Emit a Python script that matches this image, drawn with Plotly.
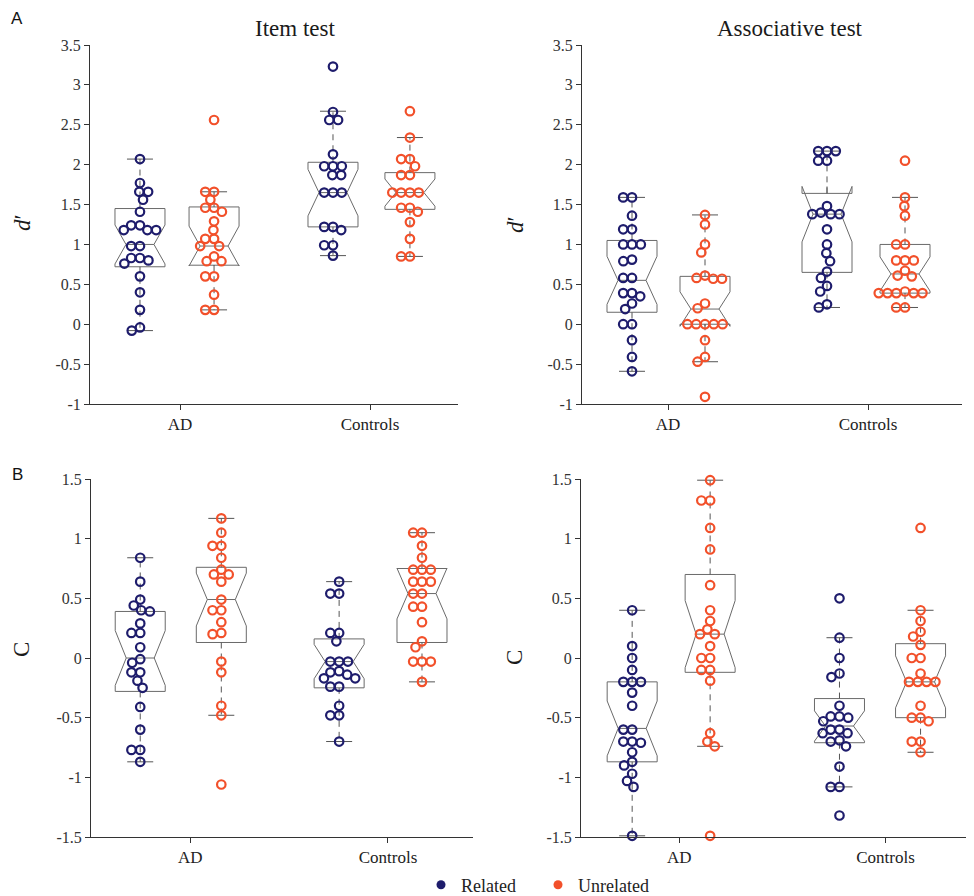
import math
import plotly.graph_objects as go

# ---------------- data ----------------
groups = ["AD", "Controls"]
cond_names = ["Related", "Unrelated"]

# Panel A, Item test, d'
item_d_AD_rel = [2.07, 1.77, 1.66, 1.66, 1.56, 1.41, 1.24, 1.24, 1.18, 1.18, 1.18, 0.98, 0.98,
                 0.83, 0.83, 0.80, 0.76, 0.60, 0.40, 0.18, -0.04, -0.08]
item_d_AD_unrel = [2.56, 1.66, 1.66, 1.56, 1.46, 1.46, 1.41, 1.29, 1.18, 1.07, 1.07, 0.98, 0.98,
                   0.85, 0.79, 0.79, 0.60, 0.60, 0.37, 0.18, 0.18]
item_d_CT_rel = [3.23, 2.66, 2.56, 2.56, 2.13, 1.98, 1.98, 1.98, 1.87, 1.87, 1.65, 1.65, 1.65,
                 1.22, 1.22, 1.18, 0.99, 0.99, 0.86]
item_d_CT_unrel = [2.67, 2.34, 2.07, 2.07, 1.98, 1.87, 1.87, 1.65, 1.65, 1.65, 1.65, 1.46, 1.46,
                   1.41, 1.28, 1.07, 0.85, 0.85]
item_d_q1 = [0.72, 0.74, 1.22, 1.44]
item_d_med = [1.00, 0.98, 1.65, 1.65]
item_d_q3 = [1.45, 1.47, 2.03, 1.90]
item_d_wlo = [-0.08, 0.18, 0.86, 0.85]
item_d_whi = [2.07, 1.66, 2.67, 2.34]

# Panel A, Associative test, d'
assoc_d_AD_rel = [1.59, 1.59, 1.36, 1.19, 1.19, 1.00, 1.00, 1.00, 0.81, 0.79, 0.58, 0.58, 0.39,
                  0.39, 0.35, 0.26, 0.19, 0.00, 0.00, -0.20, -0.41, -0.59]
assoc_d_AD_unrel = [1.37, 1.25, 1.00, 0.90, 0.61, 0.58, 0.57, 0.57, 0.26, 0.20, 0.00, 0.00, 0.00,
                    0.00, 0.00, -0.20, -0.41, -0.47, -0.91]
assoc_d_CT_rel = [2.17, 2.17, 2.17, 2.05, 2.05, 1.48, 1.40, 1.38, 1.38, 1.38, 1.19, 1.00, 0.89,
                  0.79, 0.66, 0.58, 0.48, 0.41, 0.25, 0.21]
assoc_d_CT_unrel = [2.05, 1.59, 1.48, 1.36, 1.00, 1.00, 0.80, 0.80, 0.80, 0.67, 0.61, 0.60, 0.41,
                    0.39, 0.39, 0.39, 0.39, 0.39, 0.21, 0.21]
assoc_d_q1 = [0.15, 0.00, 0.65, 0.39]
assoc_d_med = [0.55, 0.19, 1.38, 0.63]
assoc_d_q3 = [1.05, 0.60, 1.64, 1.00]
assoc_d_wlo = [-0.59, -0.47, 0.21, 0.21]
assoc_d_whi = [1.59, 1.37, 2.17, 1.59]

# Panel B, Item test, C
item_c_AD_rel = [0.84, 0.64, 0.49, 0.44, 0.40, 0.39, 0.29, 0.21, 0.21, 0.09, -0.01, -0.04, -0.12,
                 -0.12, -0.19, -0.25, -0.41, -0.60, -0.77, -0.77, -0.87]
item_c_AD_unrel = [1.17, 1.05, 0.94, 0.94, 0.84, 0.74, 0.70, 0.70, 0.64, 0.49, 0.40, 0.40, 0.30,
                   0.21, 0.20, -0.03, -0.12, -0.40, -0.48, -1.06]
item_c_CT_rel = [0.64, 0.54, 0.54, 0.21, 0.21, 0.14, -0.03, -0.03, -0.03, -0.11, -0.12, -0.14,
                 -0.17, -0.17, -0.24, -0.24, -0.40, -0.48, -0.48, -0.70]
item_c_CT_unrel = [1.05, 1.05, 0.94, 0.84, 0.74, 0.74, 0.74, 0.64, 0.64, 0.64, 0.54, 0.54, 0.43,
                   0.43, 0.30, 0.14, 0.09, -0.03, -0.03, -0.03, -0.20]
item_c_q1 = [-0.28, 0.13, -0.25, 0.13]
item_c_med = [0.00, 0.49, -0.03, 0.54]
item_c_q3 = [0.39, 0.76, 0.16, 0.75]
item_c_wlo = [-0.87, -0.48, -0.70, -0.20]
item_c_whi = [0.84, 1.17, 0.64, 1.05]

# Panel B, Associative test, C
assoc_c_AD_rel = [0.40, 0.10, 0.00, -0.10, -0.20, -0.20, -0.20, -0.29, -0.40, -0.60, -0.60, -0.70,
                  -0.71, -0.70, -0.79, -0.87, -0.90, -0.97, -1.03, -1.08, -1.49]
assoc_c_AD_unrel = [1.49, 1.32, 1.32, 1.09, 0.91, 0.61, 0.40, 0.31, 0.24, 0.20, 0.20, 0.10, 0.00,
                    0.00, -0.10, -0.10, -0.19, -0.63, -0.70, -0.74, -1.49]
assoc_c_CT_rel = [0.50, 0.17, 0.00, -0.13, -0.16, -0.40, -0.49, -0.49, -0.50, -0.53, -0.60, -0.60,
                  -0.63, -0.63, -0.69, -0.70, -0.74, -0.91, -1.08, -1.08, -1.32]
assoc_c_CT_unrel = [1.09, 0.40, 0.31, 0.22, 0.18, 0.11, 0.00, 0.00, -0.13, -0.20, -0.20, -0.20,
                    -0.20, -0.40, -0.50, -0.50, -0.53, -0.70, -0.70, -0.79]
assoc_c_q1 = [-0.87, -0.12, -0.71, -0.50]
assoc_c_med = [-0.59, 0.20, -0.57, -0.20]
assoc_c_q3 = [-0.20, 0.70, -0.34, 0.12]
assoc_c_wlo = [-1.49, -0.74, -1.08, -0.79]
assoc_c_whi = [0.40, 1.49, 0.17, 0.40]

d_ticks = [-1, -0.5, 0, 0.5, 1, 1.5, 2, 2.5, 3, 3.5]
d_ticktext = ["-1", "-0.5", "0", "0.5", "1", "1.5", "2", "2.5", "3", "3.5"]
c_ticks = [-1.5, -1, -0.5, 0, 0.5, 1, 1.5]
c_ticktext = ["-1.5", "-1", "-0.5", "0", "0.5", "1", "1.5"]

# ---------------- style / layout constants ----------------
W, H = 974, 896
PAD = 8          # page (body) margin in which the figure sits
BLUE = "#1e1c6c"
ORANGE = "#f2502a"
BOXC = "#6a6a6a"
AXC = "#333333"
SERIF = "Liberation Serif"
SANS = "Liberation Sans"


def fx(px):
    return (px - PAD) / W


def fy(py):
    return 1 - (py - PAD) / H


panels = [
    dict(series=[item_d_AD_rel, item_d_AD_unrel, item_d_CT_rel, item_d_CT_unrel],
         q1=item_d_q1, med=item_d_med, q3=item_d_q3, wlo=item_d_wlo, whi=item_d_whi,
         xpx=(90, 458), ypx=(45, 404), xr=(0.526, 2.463), yr=(-1, 3.5),
         pos=[0.789, 1.179, 1.805, 2.21], ticks=d_ticks, ticktext=d_ticktext),
    dict(series=[assoc_d_AD_rel, assoc_d_AD_unrel, assoc_d_CT_rel, assoc_d_CT_unrel],
         q1=assoc_d_q1, med=assoc_d_med, q3=assoc_d_q3, wlo=assoc_d_wlo, whi=assoc_d_whi,
         xpx=(582, 962), ypx=(45, 404), xr=(0.57, 2.47), yr=(-1, 3.5),
         pos=[0.82, 1.185, 1.795, 2.185], ticks=d_ticks, ticktext=d_ticktext),
    dict(series=[item_c_AD_rel, item_c_AD_unrel, item_c_CT_rel, item_c_CT_unrel],
         q1=item_c_q1, med=item_c_med, q3=item_c_q3, wlo=item_c_wlo, whi=item_c_whi,
         xpx=(91, 473), ypx=(479, 837), xr=(0.498, 2.43), yr=(-1.5, 1.5),
         pos=[0.747, 1.157, 1.753, 2.172], ticks=c_ticks, ticktext=c_ticktext),
    dict(series=[assoc_c_AD_rel, assoc_c_AD_unrel, assoc_c_CT_rel, assoc_c_CT_unrel],
         q1=assoc_c_q1, med=assoc_c_med, q3=assoc_c_q3, wlo=assoc_c_wlo, whi=assoc_c_whi,
         xpx=(581, 968), ypx=(479, 837), xr=(0.524, 2.40), yr=(-1.5, 1.5),
         pos=[0.772, 1.15, 1.777, 2.17], ticks=c_ticks, ticktext=c_ticktext),
]
series_colors = [BLUE, ORANGE, BLUE, ORANGE]
BOX_PX = 50      # box width in pixels
CAP_PX = 26      # whisker cap width in pixels
DOT_PX = 8.8     # minimum distance between point centres


def swarm(vals, ppx_x, ppx_y, d=DOT_PX):
    placed = []
    offs = [0.0] * len(vals)
    order = sorted(range(len(vals)), key=lambda i: -vals[i])
    for i in order:
        y = vals[i] * ppx_y
        cands = [0.0]
        for px, py in placed:
            dy = abs(py - y)
            if dy < d:
                dx = math.sqrt(d * d - dy * dy)
                cands += [px + dx, px - dx]
        cands.sort(key=lambda c: (round(abs(c), 6), c))
        chosen = cands[-1]
        for c in cands:
            if all((c - px) ** 2 + (y - py) ** 2 >= d * d - 1e-6 for px, py in placed):
                chosen = c
                break
        placed.append((chosen, y))
        offs[i] = chosen / ppx_x
    return offs


fig = go.Figure()
layout_axes = {}

for k, p in enumerate(panels):
    sfx = "" if k == 0 else str(k + 1)
    xa, ya = "x" + sfx, "y" + sfx
    ppx_x = (p["xpx"][1] - p["xpx"][0]) / (p["xr"][1] - p["xr"][0])
    ppx_y = (p["ypx"][1] - p["ypx"][0]) / (p["yr"][1] - p["yr"][0])
    bw = BOX_PX / ppx_x
    cw = CAP_PX / ppx_x / 2

    # notched boxes
    for j, vals in enumerate(p["series"]):
        iqr = p["q3"][j] - p["q1"][j]
        notch = 1.57 * iqr / math.sqrt(len(vals))
        fig.add_trace(go.Box(
            x=[p["pos"][j]], q1=[p["q1"][j]], median=[p["med"][j]], q3=[p["q3"][j]],
            lowerfence=[p["q1"][j]], upperfence=[p["q3"][j]], notchspan=[notch],
            notched=True, notchwidth=0.22, width=bw, whiskerwidth=0,
            boxpoints=False, line=dict(color=BOXC, width=1),
            fillcolor="rgba(0,0,0,0)", xaxis=xa, yaxis=ya, showlegend=False,
            hoverinfo="skip"))

    # dashed whiskers + caps
    for j in range(4):
        x0 = p["pos"][j]
        fig.add_trace(go.Scatter(
            x=[x0, x0, None, x0, x0],
            y=[p["q3"][j], p["whi"][j], None, p["q1"][j], p["wlo"][j]],
            mode="lines", line=dict(color="#555555", width=1, dash="6px,5px"),
            xaxis=xa, yaxis=ya, showlegend=False, hoverinfo="skip", cliponaxis=False))
        fig.add_trace(go.Scatter(
            x=[x0 - cw, x0 + cw, None, x0 - cw, x0 + cw],
            y=[p["whi"][j], p["whi"][j], None, p["wlo"][j], p["wlo"][j]],
            mode="lines", line=dict(color="#555555", width=1),
            xaxis=xa, yaxis=ya, showlegend=False, hoverinfo="skip", cliponaxis=False))

    # individual points (beeswarm)
    for j, vals in enumerate(p["series"]):
        offs = swarm(vals, ppx_x, ppx_y)
        fig.add_trace(go.Scatter(
            x=[p["pos"][j] + o for o in offs], y=vals, mode="markers",
            marker=dict(symbol="circle-open", size=8.5, color=series_colors[j],
                        line=dict(width=2.2, color=series_colors[j])),
            xaxis=xa, yaxis=ya, showlegend=False, cliponaxis=False,
            hoverinfo="y"))

    layout_axes["xaxis" + sfx] = dict(
        domain=[fx(p["xpx"][0]), fx(p["xpx"][1])], range=list(p["xr"]),
        anchor=ya, tickvals=[1, 2], ticktext=groups, showgrid=False, zeroline=False,
        showline=True, linecolor=AXC, linewidth=1, ticks="outside", ticklen=5,
        tickcolor=AXC, tickfont=dict(family=SERIF, size=17, color="#222"),
        automargin=False, fixedrange=True)
    layout_axes["yaxis" + sfx] = dict(
        domain=[fy(p["ypx"][1]), fy(p["ypx"][0])], range=list(p["yr"]),
        anchor=xa, tickvals=p["ticks"], ticktext=p["ticktext"], showgrid=False,
        zeroline=False, showline=True, linecolor=AXC, linewidth=1, ticks="outside",
        ticklen=5, tickcolor=AXC, tickfont=dict(family=SERIF, size=16, color="#333"),
        automargin=False, fixedrange=True)

# legend entries
for name, col in zip(cond_names, [BLUE, ORANGE]):
    fig.add_trace(go.Scatter(x=[None], y=[None], mode="markers", name=name,
                             marker=dict(symbol="circle", size=9, color=col),
                             xaxis="x4", yaxis="y4", showlegend=True))


def ann(text, x, y, size, family, angle=0, color="#1a1a1a"):
    return dict(text=text, x=fx(x), y=fy(y), xref="paper", yref="paper",
                xanchor="center", yanchor="middle", showarrow=False, textangle=angle,
                font=dict(family=family, size=size, color=color))


annotations = [
    ann("Item test", 295, 28, 23, SERIF),
    ann("Associative test", 790, 28, 23, SERIF),
    ann("A", 17, 18, 17, SANS, color="#111"),
    ann("B", 17, 474, 17, SANS, color="#111"),
    ann("<i>d</i>′", 22, 223, 23, SERIF, angle=-90),
    ann("<i>d</i>′", 515, 225, 23, SERIF, angle=-90),
    ann("C", 21, 650, 23, SERIF, angle=-90),
    ann("C", 514, 658, 23, SERIF, angle=-90),
]

fig.update_layout(
    width=W, height=H, margin=dict(l=0, r=0, t=0, b=0, autoexpand=False),
    paper_bgcolor="white", plot_bgcolor="white",
    annotations=annotations,
    showlegend=True,
    legend=dict(orientation="h", x=fx(421), xanchor="left", y=fy(885), yanchor="middle",
                font=dict(family=SERIF, size=18, color="#222"), bgcolor="rgba(0,0,0,0)",
                itemwidth=30, entrywidth=72, entrywidthmode="pixels"),
    **layout_axes,
)

fig.write_html("out.html")
